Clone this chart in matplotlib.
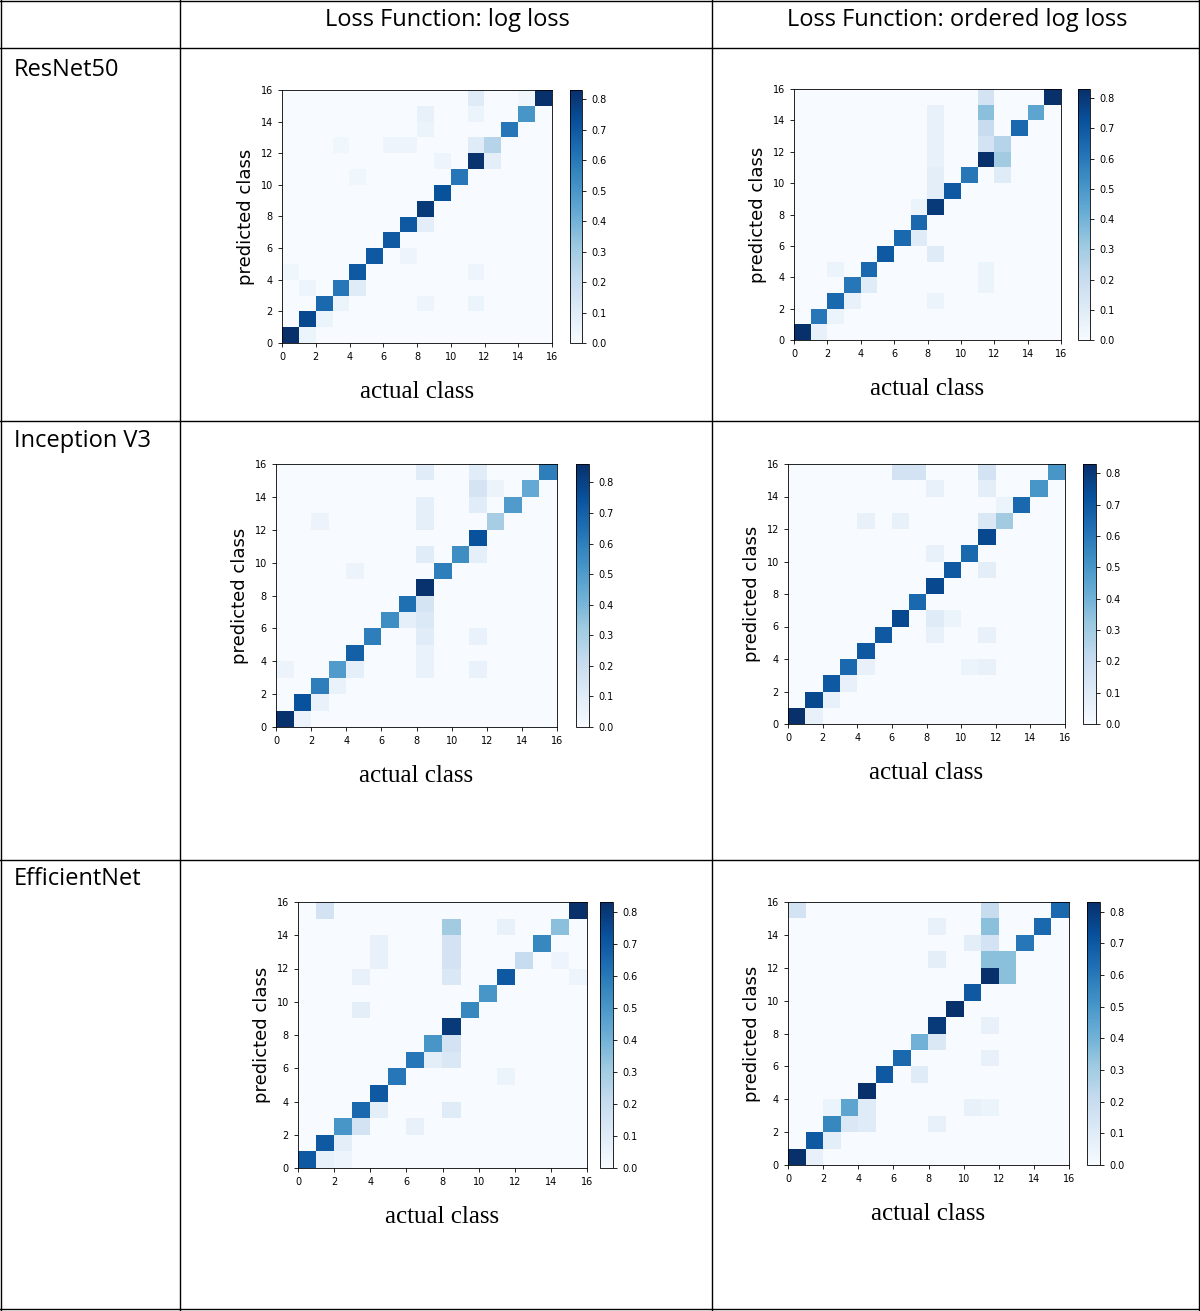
import numpy as np
import matplotlib
matplotlib.use("Agg")
import matplotlib.pyplot as plt
from matplotlib.lines import Line2D

W, H = 1200, 1311
col_headers = ["Loss Function: log loss", "Loss Function: ordered log loss"]
row_labels = ["ResNet50", "Inception V3", "EfficientNet"]

# diagonal values per matrix (actual class 0..15)
resnet_log_diag = [0.85, 0.75, 0.65, 0.6, 0.7, 0.7, 0.7, 0.7, 0.8, 0.72, 0.6, 0.82, 0.25, 0.6, 0.5, 0.85]
resnet_ord_diag = [0.85, 0.6, 0.65, 0.6, 0.65, 0.7, 0.65, 0.65, 0.8, 0.7, 0.6, 0.85, 0.25, 0.65, 0.45, 0.85]
incep_log_diag = [0.85, 0.75, 0.6, 0.5, 0.7, 0.6, 0.55, 0.65, 0.85, 0.6, 0.55, 0.75, 0.3, 0.5, 0.45, 0.6]
incep_ord_diag = [0.85, 0.75, 0.7, 0.65, 0.7, 0.7, 0.75, 0.65, 0.75, 0.7, 0.65, 0.75, 0.3, 0.65, 0.5, 0.5]
effic_log_diag = [0.7, 0.7, 0.5, 0.65, 0.7, 0.6, 0.6, 0.5, 0.8, 0.55, 0.5, 0.7, 0.2, 0.55, 0.35, 0.85]
effic_ord_diag = [0.85, 0.7, 0.55, 0.45, 0.85, 0.7, 0.65, 0.4, 0.8, 0.85, 0.7, 0.85, 0.35, 0.6, 0.65, 0.65]

# off-diagonal entries: (actual, predicted, value)
resnet_log_off = [(11, 15, 0.1), (11, 14, 0.05), (8, 14, 0.06), (8, 13, 0.05), (11, 12, 0.1), (12, 11, 0.08),
                  (3, 12, 0.03), (6, 12, 0.04), (7, 12, 0.04), (1, 0, 0.05), (2, 1, 0.05), (3, 2, 0.05),
                  (4, 3, 0.1), (8, 7, 0.08), (8, 2, 0.04), (11, 2, 0.05), (7, 5, 0.04), (11, 4, 0.04),
                  (9, 11, 0.04), (0, 4, 0.03), (1, 3, 0.04), (14, 15, 0.03), (4, 10, 0.03)]
resnet_ord_off = [(11, 15, 0.15), (11, 14, 0.35), (11, 13, 0.2), (12, 12, 0.0), (11, 12, 0.15), (12, 11, 0.3),
                  (8, 14, 0.06), (8, 13, 0.06), (8, 12, 0.06), (8, 11, 0.06), (8, 10, 0.08), (8, 9, 0.08),
                  (7, 6, 0.1), (8, 5, 0.1), (8, 2, 0.05), (1, 0, 0.06), (2, 1, 0.05), (3, 2, 0.06),
                  (4, 3, 0.1), (2, 4, 0.05), (11, 4, 0.05), (11, 3, 0.05), (12, 10, 0.1), (7, 8, 0.05)]
incep_log_off = [(8, 15, 0.1), (11, 15, 0.1), (11, 14, 0.15), (12, 14, 0.05), (8, 13, 0.08), (11, 13, 0.1),
                 (8, 12, 0.08), (8, 10, 0.1), (11, 10, 0.08), (8, 7, 0.15), (8, 6, 0.12), (7, 6, 0.08),
                 (8, 5, 0.1), (8, 4, 0.06), (8, 3, 0.06), (1, 0, 0.05), (2, 1, 0.06), (3, 2, 0.06),
                 (4, 3, 0.08), (11, 5, 0.06), (11, 3, 0.06), (0, 3, 0.05), (2, 12, 0.05), (4, 9, 0.05)]
incep_ord_off = [(6, 15, 0.15), (7, 15, 0.15), (11, 15, 0.15), (11, 14, 0.08), (8, 14, 0.06), (11, 12, 0.12),
                 (6, 12, 0.06), (8, 10, 0.06), (11, 9, 0.08), (8, 6, 0.1), (8, 5, 0.06), (1, 0, 0.06),
                 (2, 1, 0.06), (3, 2, 0.06), (4, 3, 0.06), (11, 3, 0.06), (11, 5, 0.06), (10, 3, 0.05),
                 (4, 12, 0.06), (12, 13, 0.05), (9, 6, 0.05)]
effic_log_off = [(1, 15, 0.15), (8, 14, 0.3), (8, 13, 0.15), (8, 12, 0.15), (8, 11, 0.12), (8, 7, 0.15),
                 (8, 6, 0.12), (7, 6, 0.08), (8, 3, 0.1), (4, 13, 0.06), (4, 12, 0.06), (3, 11, 0.06),
                 (3, 9, 0.08), (1, 0, 0.06), (2, 1, 0.08), (3, 2, 0.15), (4, 3, 0.08), (11, 14, 0.06),
                 (12, 12, 0.0), (14, 12, 0.04), (6, 2, 0.06), (15, 11, 0.04), (2, 0, 0.04), (11, 5, 0.05)]
effic_ord_off = [(0, 15, 0.15), (11, 15, 0.2), (11, 14, 0.35), (11, 13, 0.15), (12, 12, 0.0), (11, 12, 0.35),
                 (11, 11, 0.0), (12, 11, 0.35), (8, 14, 0.06), (8, 12, 0.08), (10, 13, 0.08), (8, 7, 0.12),
                 (7, 5, 0.1), (1, 0, 0.06), (2, 1, 0.08), (3, 2, 0.12), (4, 3, 0.1), (4, 2, 0.1),
                 (11, 8, 0.06), (11, 6, 0.06), (11, 3, 0.05), (10, 3, 0.06), (8, 2, 0.06), (2, 3, 0.05)]

matrices = [
    (resnet_log_diag, resnet_log_off, 0.83, (282, 90, 552, 343), (570, 582)),
    (resnet_ord_diag, resnet_ord_off, 0.83, (794, 89, 1061, 340), (1078, 1090)),
    (incep_log_diag, incep_log_off, 0.86, (276, 464, 557, 727), (576, 589)),
    (incep_ord_diag, incep_ord_off, 0.83, (788, 464, 1065, 724), (1083, 1096)),
    (effic_log_diag, effic_log_off, 0.83, (298, 902, 587, 1168), (600, 613)),
    (effic_ord_diag, effic_ord_off, 0.83, (788, 902, 1069, 1165), (1087, 1100)),
]

fig = plt.figure(figsize=(12, 13.11), dpi=100)

def rect(x0, y0, x1, y1):
    return [x0 / W, 1 - y1 / H, (x1 - x0) / W, (y1 - y0) / H]

# table grid
for x in [1, 180, 712, 1199]:
    fig.add_artist(Line2D([x / W, x / W], [0, 1], color="black", lw=1))
for y in [1, 48, 421, 860, 1309]:
    fig.add_artist(Line2D([0, 1], [1 - y / H, 1 - y / H], color="black", lw=1))

fig.text(447 / W, 1 - 20 / H, col_headers[0], ha="center", va="center", fontsize=17, family="Open Sans")
fig.text(957 / W, 1 - 20 / H, col_headers[1], ha="center", va="center", fontsize=17, family="Open Sans")
for lbl, y in zip(row_labels, [70, 441, 879]):
    fig.text(14 / W, 1 - y / H, lbl, ha="left", va="center", fontsize=17, family="Open Sans")

for diag, off, vmax, (x0, y0, x1, y1), (c0, c1) in matrices:
    m = np.zeros((16, 16))
    for i, v in enumerate(diag):
        m[i, i] = v
    for a, p, v in off:
        if v > 0:
            m[p, a] = v
    ax = fig.add_axes(rect(x0, y0, x1, y1))
    im = ax.imshow(m, origin="lower", extent=[0, 16, 0, 16], cmap="Blues", vmin=0, vmax=vmax, aspect="auto")
    ax.set_xticks(range(0, 17, 2))
    ax.set_yticks(range(0, 17, 2))
    ax.tick_params(labelsize=7, length=3, width=0.6)
    for s in ax.spines.values():
        s.set_linewidth(0.6)
    ax.set_ylabel("predicted class", fontsize=13, labelpad=4)
    ax.set_xlabel("actual class", fontsize=18, family="Liberation Serif", labelpad=14)
    cax = fig.add_axes(rect(c0, y0, c1, y1))
    cb = fig.colorbar(im, cax=cax, ticks=np.arange(0, 0.81, 0.1))
    cb.ax.tick_params(labelsize=7, length=3, width=0.6)
    cb.outline.set_linewidth(0.6)
    cb.ax.set_yticklabels([f"{t:.1f}" for t in np.arange(0, 0.81, 0.1)])

fig.savefig("out.png", dpi=100)
